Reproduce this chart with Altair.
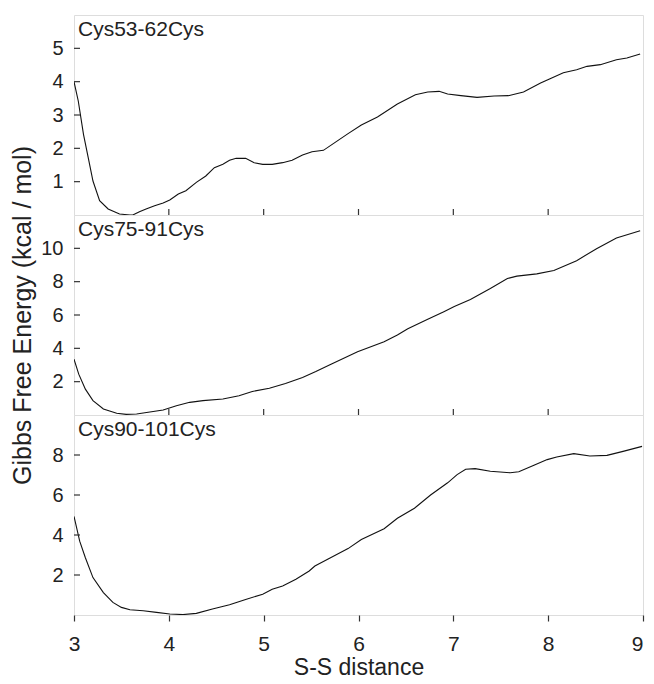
import altair as alt
import pandas as pd

# ---- data ----
x_a = [3.00, 3.045, 3.10, 3.15, 3.20, 3.27, 3.36, 3.48, 3.59, 3.62, 3.69, 3.76, 3.85, 3.94, 4.01, 4.10,
       4.18, 4.29, 4.39, 4.48, 4.57, 4.64, 4.71, 4.81, 4.90, 4.99, 5.09, 5.20, 5.30, 5.41, 5.51, 5.63,
       5.75, 5.89, 6.03, 6.20, 6.41, 6.60, 6.73, 6.85, 6.94, 7.08, 7.25, 7.43, 7.58, 7.74, 7.92, 8.02,
       8.16, 8.30, 8.41, 8.55, 8.72, 8.83, 8.97]
y_a = [4.00, 3.42, 2.42, 1.72, 1.02, 0.43, 0.18, 0.03, 0.00, 0.00, 0.10, 0.18, 0.28, 0.36, 0.45, 0.63,
       0.73, 0.98, 1.17, 1.42, 1.52, 1.64, 1.70, 1.70, 1.57, 1.52, 1.52, 1.57, 1.64, 1.80, 1.90, 1.94,
       2.17, 2.44, 2.70, 2.94, 3.33, 3.61, 3.69, 3.71, 3.63, 3.58, 3.53, 3.57, 3.58, 3.69, 3.96, 4.09,
       4.27, 4.36, 4.46, 4.51, 4.66, 4.71, 4.83]

x_b = [3.00, 3.05, 3.12, 3.20, 3.31, 3.45, 3.55, 3.66, 3.80, 3.94, 4.08, 4.22, 4.36, 4.57, 4.74, 4.88,
       5.06, 5.23, 5.41, 5.55, 5.71, 5.99, 6.27, 6.41, 6.52, 6.73, 6.90, 7.01, 7.18, 7.39, 7.57, 7.67,
       7.88, 8.06, 8.30, 8.51, 8.72, 8.97]
y_b = [3.35, 2.45, 1.55, 0.86, 0.36, 0.10, 0.04, 0.06, 0.18, 0.30, 0.56, 0.76, 0.86, 0.96, 1.16, 1.41,
       1.61, 1.89, 2.25, 2.61, 3.05, 3.80, 4.40, 4.80, 5.18, 5.74, 6.20, 6.51, 6.93, 7.59, 8.19, 8.33,
       8.47, 8.67, 9.26, 9.98, 10.62, 11.06]

x_c = [3.00, 3.06, 3.12, 3.20, 3.31, 3.41, 3.50, 3.59, 3.73, 3.87, 4.01, 4.15, 4.29, 4.46, 4.64, 4.81,
       4.99, 5.09, 5.20, 5.34, 5.48, 5.54, 5.68, 5.89, 6.03, 6.27, 6.41, 6.59, 6.76, 6.94, 7.04, 7.13,
       7.23, 7.39, 7.60, 7.69, 7.85, 7.99, 8.09, 8.27, 8.44, 8.62, 8.79, 8.99]
y_c = [4.93, 3.69, 2.86, 1.87, 1.12, 0.63, 0.38, 0.26, 0.21, 0.13, 0.05, 0.02, 0.08, 0.30, 0.51, 0.78,
       1.04, 1.29, 1.45, 1.79, 2.20, 2.45, 2.80, 3.32, 3.77, 4.31, 4.84, 5.34, 6.00, 6.61, 7.02, 7.29,
       7.32, 7.19, 7.11, 7.16, 7.49, 7.77, 7.90, 8.07, 7.95, 7.98, 8.18, 8.43]

labels = ["Cys53-62Cys", "Cys75-91Cys", "Cys90-101Cys"]
y_domains = [[0, 6], [0, 12], [0, 10]]
y_ticks = [[1, 2, 3, 4, 5], [2, 4, 6, 8, 10], [2, 4, 6, 8]]
x_ticks = [3, 4, 5, 6, 7, 8, 9]
x_inner_ticks = [4, 5, 6, 7, 8]

FONT = "Liberation Sans"
INK = "#222222"
FRAME = "#333333"
W, H = 569, 200


def panel(xs, ys, label, ydom, yt, bottom, ytitle):
    df = pd.DataFrame({"d": xs, "g": ys})
    xs_ = alt.Scale(domain=[3, 9], nice=False, zero=False)
    ys_ = alt.Scale(domain=ydom, nice=False, zero=False)
    if bottom:
        xaxis = alt.Axis(values=x_ticks, format="d", title="S-S distance", grid=False, domain=False,
                         tickSize=6, tickColor=FRAME, tickWidth=1.2,
                         labelFont=FONT, labelFontSize=21, labelColor=INK, labelPadding=12,
                         labelAlign={"condition": {"test": "datum.value >= 9", "value": "right"},
                                     "value": "center"},
                         titleFont=FONT, titleFontSize=23, titleFontWeight="normal", titleColor=INK,
                         titlePadding=2)
    else:
        xaxis = None
    yaxis = alt.Axis(values=yt, format="d", title=ytitle, grid=False, domain=False, ticks=False,
                     labelFont=FONT, labelFontSize=20, labelColor=INK, labelPadding=11,
                     titleFont=FONT, titleFontSize=25, titleFontWeight="normal", titleColor=INK,
                     titlePadding=5)
    line = alt.Chart(df).mark_line(color="#111111", strokeWidth=1.1, clip=True).encode(
        x=alt.X("d:Q", scale=xs_, axis=xaxis),
        y=alt.Y("g:Q", scale=ys_, axis=yaxis),
        order=alt.Order("d:Q"),
    )
    yt_df = pd.DataFrame({"v": yt})
    ytick = alt.Chart(yt_df).mark_rule(color=FRAME, strokeWidth=1.2).encode(
        y=alt.Y("v:Q", scale=ys_, axis=yaxis),
        x=alt.value(0), x2=alt.value(6),
    )
    lab = alt.Chart(pd.DataFrame({"t": [label]})).mark_text(
        align="left", baseline="top", font=FONT, fontSize=21, color=INK
    ).encode(x=alt.value(4), y=alt.value(4), text="t:N")
    layers = [line, ytick, lab]
    if not bottom:
        xt_df = pd.DataFrame({"t": x_inner_ticks})
        xtick = alt.Chart(xt_df).mark_rule(color=FRAME, strokeWidth=1.2).encode(
            x=alt.X("t:Q", scale=xs_, axis=None),
            y=alt.value(H), y2=alt.value(H - 6),
        )
        layers.append(xtick)
    return alt.layer(*layers).properties(width=W, height=H)


p1 = panel(x_a, y_a, labels[0], y_domains[0], y_ticks[0], False, "")
p2 = panel(x_b, y_b, labels[1], y_domains[1], y_ticks[1], False, "Gibbs Free Energy (kcal / mol)")
p3 = panel(x_c, y_c, labels[2], y_domains[2], y_ticks[2], True, "")

chart = alt.vconcat(p1, p2, p3, spacing=0, bounds="flush").properties(
    padding={"left": 2, "top": 6, "right": 0, "bottom": 0}
).configure_view(stroke=FRAME, strokeWidth=1.3).configure(background="white")

chart.save("out.html", embed_options={"renderer": "svg", "actions": False})
